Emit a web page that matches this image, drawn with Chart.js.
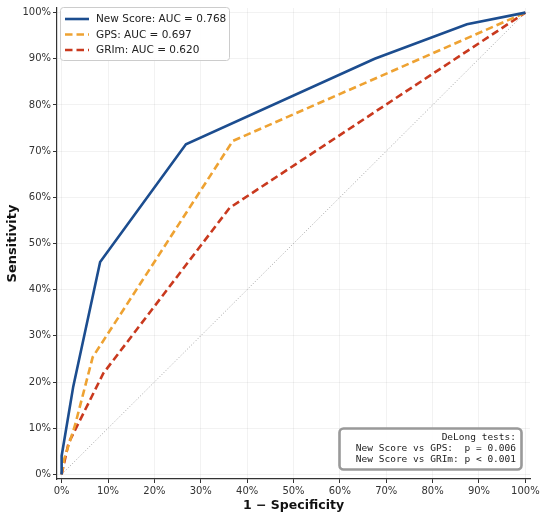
<!DOCTYPE html>
<html>
<head>
<meta charset="utf-8">
<script src="https://cdn.jsdelivr.net/npm/chart.js@4.4.0/dist/chart.umd.min.js"></script>
<style>
  body { margin: 0; background: #fff; }
  #wrap { width: 550px; height: 522px; }
</style>
</head>
<body>
<div id="wrap"><canvas id="rocChart"></canvas></div>
<script>
// ROC curves, values (1 - specificity, sensitivity)
const newScoreFpr = [0, 0, 0.025, 0.083, 0.268, 0.675, 0.874, 1];
const newScoreTpr = [0, 0.04, 0.19, 0.46, 0.715, 0.90, 0.975, 1];
const gpsFpr = [0, 0.006, 0.029, 0.067, 0.369, 1];
const gpsTpr = [0, 0.035, 0.107, 0.254, 0.722, 1];
const grimFpr = [0, 0.015, 0.09, 0.362, 1];
const grimTpr = [0, 0.068, 0.219, 0.577, 1];
const chanceFpr = [0, 1];
const chanceTpr = [0, 1];

const seriesLabels = ['New Score: AUC = 0.768', 'GPS: AUC = 0.697', 'GRIm: AUC = 0.620'];
const tickValues = [0, 0.1, 0.2, 0.3, 0.4, 0.5, 0.6, 0.7, 0.8, 0.9, 1];
const delongLines = ['DeLong tests:', 'New Score vs GPS:  p = 0.006', 'New Score vs GRIm: p < 0.001'];

const toPoints = (xs, ys) => xs.map((x, i) => ({ x: x, y: ys[i] }));
const pct = v => Math.round(v * 100) + '%';

// legend + text box drawn inside the plot, like matplotlib
const insideBoxes = {
  id: 'insideBoxes',
  afterDraw(chart) {
    const ctx = chart.ctx;
    ctx.save();
    // legend
    ctx.beginPath();
    ctx.roundRect(60.5, 7.5, 169, 53, 3);
    ctx.fillStyle = 'rgba(255,255,255,0.85)';
    ctx.fill();
    ctx.strokeStyle = '#cccccc';
    ctx.lineWidth = 1;
    ctx.stroke();
    const rows = [19, 34.5, 50];
    for (let i = 0; i < 3; i++) {
      const ds = chart.data.datasets[i];
      ctx.beginPath();
      ctx.setLineDash(ds.borderDash || []);
      ctx.strokeStyle = ds.borderColor;
      ctx.lineWidth = ds.borderWidth;
      ctx.moveTo(65, rows[i]);
      ctx.lineTo(89, rows[i]);
      ctx.stroke();
      ctx.setLineDash([]);
      ctx.fillStyle = '#222';
      ctx.font = '10.5px "DejaVu Sans"';
      ctx.textBaseline = 'middle';
      ctx.textAlign = 'left';
      ctx.fillText(seriesLabels[i], 96, rows[i] + 0.5);
    }
    // DeLong box
    ctx.beginPath();
    ctx.roundRect(339.5, 428.5, 182, 41, 4);
    ctx.fillStyle = 'rgba(255,255,255,0.9)';
    ctx.fill();
    ctx.strokeStyle = '#999999';
    ctx.stroke();
    ctx.fillStyle = '#222';
    ctx.font = '9.5px "DejaVu Sans Mono"';
    ctx.textAlign = 'right';
    ctx.textBaseline = 'middle';
    delongLines.forEach((t, i) => ctx.fillText(t, 516, 437.5 + i * 11));
    ctx.restore();
  }
};

const ctxRoc = document.getElementById('rocChart');
const rocChart = new Chart(ctxRoc, {
  type: 'line',
  data: {
    datasets: [
      {
        label: seriesLabels[0],
        data: toPoints(newScoreFpr, newScoreTpr),
        borderColor: '#1c4d8f',
        borderWidth: 2.6,
        pointRadius: 0,
        tension: 0
      },
      {
        label: seriesLabels[1],
        data: toPoints(gpsFpr, gpsTpr),
        borderColor: '#eea232',
        borderWidth: 2.6,
        borderDash: [7.5, 4],
        pointRadius: 0,
        tension: 0
      },
      {
        label: seriesLabels[2],
        data: toPoints(grimFpr, grimTpr),
        borderColor: '#c9391e',
        borderWidth: 2.6,
        borderDash: [7.5, 4],
        pointRadius: 0,
        tension: 0
      },
      {
        label: 'chance',
        data: toPoints(chanceFpr, chanceTpr),
        borderColor: '#9a9a9a',
        borderWidth: 0.9,
        borderDash: [1, 2],
        pointRadius: 0,
        tension: 0
      }
    ]
  },
  options: {
    responsive: true,
    maintainAspectRatio: false,
    animation: false,
    layout: { padding: { top: 0, right: 20, left: 5, bottom: 9 } },
    scales: {
      x: {
        type: 'linear',
        min: -0.01,
        max: 1.01,
        afterBuildTicks: s => { s.ticks = tickValues.map(v => ({ value: v })); },
        afterFit: s => { s.height = 34; },
        ticks: {
          callback: v => pct(v),
          color: '#333',
          font: { family: 'DejaVu Sans', size: 10 },
          padding: 2,
          maxRotation: 0
        },
        grid: { color: 'rgba(0,0,0,0.05)', tickColor: '#333', tickLength: 4 },
        border: { display: true, color: '#333', width: 1.2 },
        title: {
          display: true,
          text: '1 − Specificity',
          color: '#111',
          font: { family: 'DejaVu Sans', size: 12.5, weight: 'bold' },
          padding: { top: 3, bottom: 0 }
        }
      },
      y: {
        type: 'linear',
        min: -0.01,
        max: 1.01,
        afterBuildTicks: s => { s.ticks = tickValues.map(v => ({ value: v })); },
        afterFit: s => { s.width = 52; },
        ticks: {
          callback: v => pct(v),
          color: '#333',
          font: { family: 'DejaVu Sans', size: 10 },
          padding: 2
        },
        grid: { color: 'rgba(0,0,0,0.05)', tickColor: '#333', tickLength: 4 },
        border: { display: true, color: '#333', width: 1.2 },
        title: {
          display: true,
          text: 'Sensitivity',
          color: '#111',
          font: { family: 'DejaVu Sans', size: 13, weight: 'bold' },
          padding: { top: 0, bottom: 0 }
        }
      }
    },
    plugins: {
      legend: { display: false },
      tooltip: { enabled: false }
    }
  },
  plugins: [insideBoxes]
});
</script>
</body>
</html>
